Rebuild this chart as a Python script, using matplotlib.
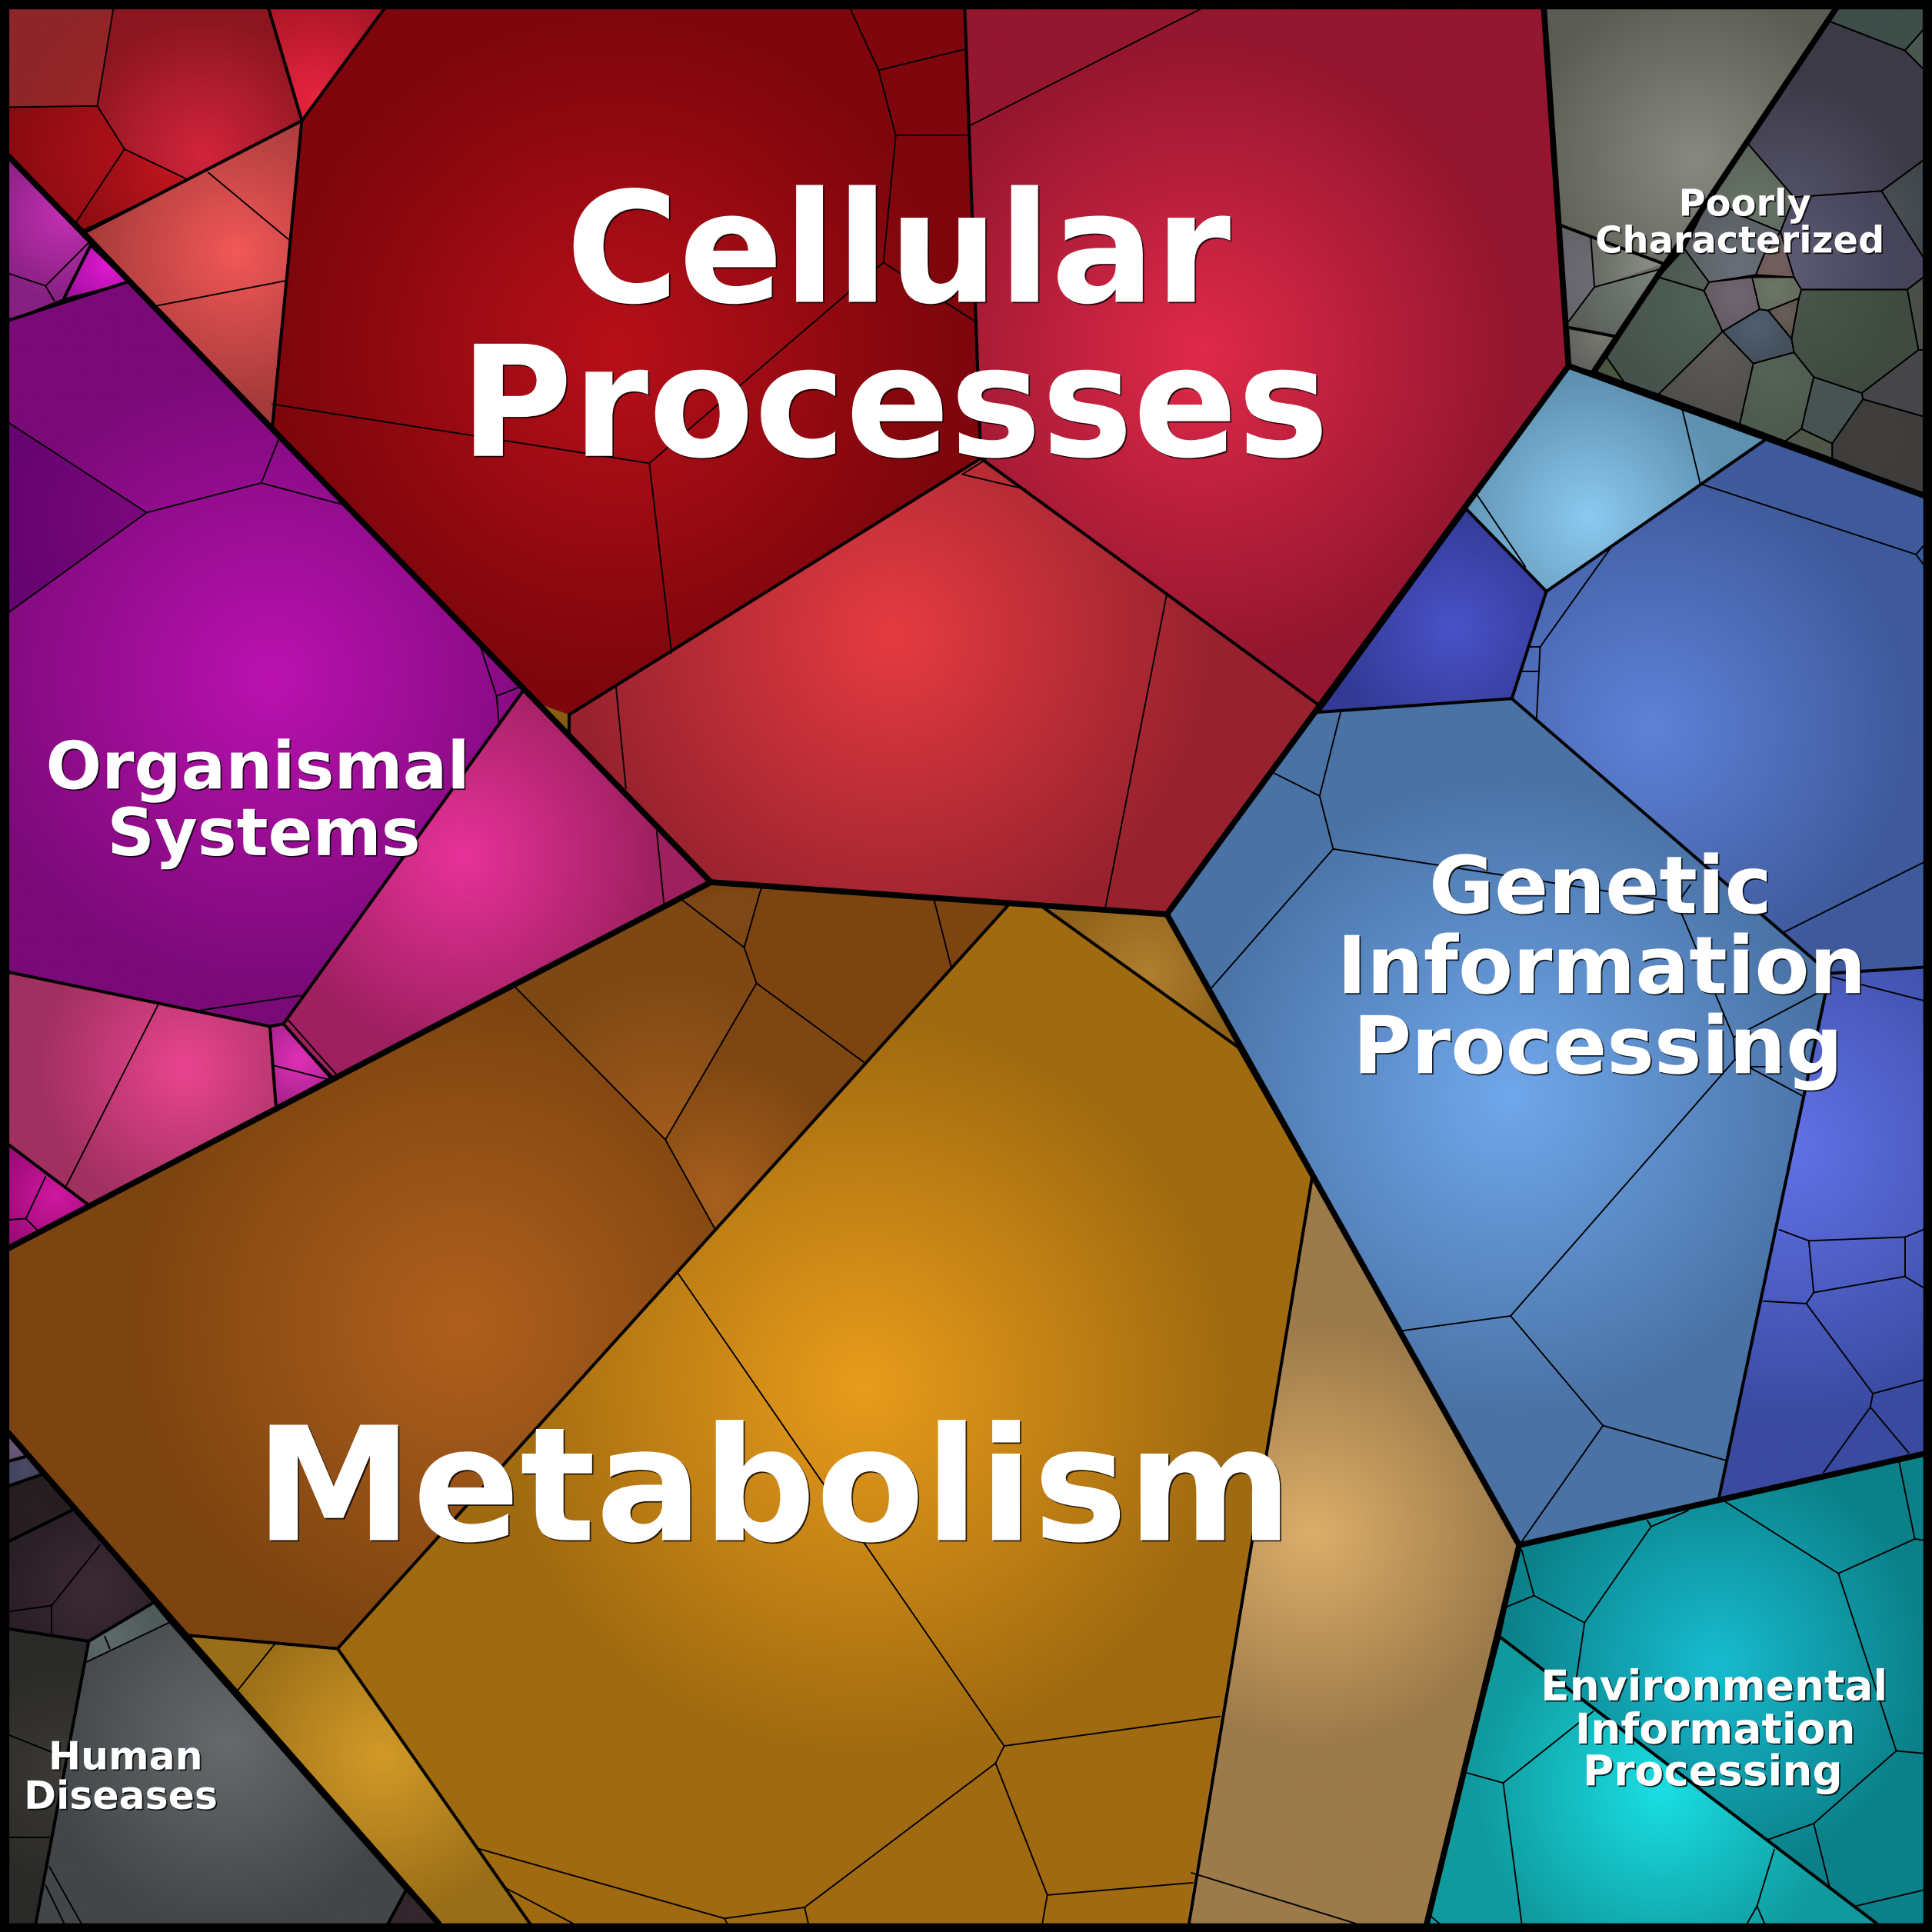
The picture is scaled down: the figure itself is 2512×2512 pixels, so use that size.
import numpy as np
import matplotlib
matplotlib.use("Agg")
import matplotlib.pyplot as plt
from matplotlib.patches import Polygon, Rectangle
from matplotlib.colors import to_rgb
import matplotlib.patheffects as pe

# ---------- cells: outline, centre colour, edge colour, glow centre, glow radius ----------
CELLS = [
 # Cellular Processes
 ([(245,98),(312,7),(783,7),(796,372),(462,580),(440,572),(221,347)], '#b8101a','#7e060c',(500,285),270),
 ([(783,7),(1253,7),(1273,297),(1070,572),(796,372)], '#e02a4a','#94162f',(975,285),255),
 ([(796,372),(1070,572),(947,742),(577,716),(462,597),(462,580)], '#e63b42','#97222e',(725,515),260),
 ([(440,572),(462,580),(462,597)], '#8a5f10','#7e5510',(450,580),30),
 ([(7,7),(92,7),(79,86),(7,87)], '#a5282d','#8f2528',(165,125),150),
 ([(92,7),(218,7),(245,98),(153,146),(101,121),(79,86)], '#d2243c','#8c1620',(165,125),110),
 ([(7,87),(79,86),(101,121),(62,180),(7,127)], '#b5121c','#860b10',(125,125),130),
 ([(101,121),(153,146),(68,186),(62,180)], '#c0161f','#860b10',(140,135),100),
 ([(218,7),(312,7),(245,98)], '#e82440','#a51525',(255,80),90),
 ([(245,98),(221,347),(70,188)], '#f25858','#a53a3a',(192,205),125),
 # Organismal Systems
 ([(7,260),(103,229),(425,560),(230,831),(219,833),(7,789)], '#bb12b0','#7a0a78',(220,550),255),
 ([(7,343),(119,416),(7,497)], '#7a087c','#660470',(110,420),110),
 ([(425,560),(577,716),(272,875),(230,831)], '#e8329a','#9e2060',(375,695),160),
 ([(7,789),(219,833),(224,898),(72,978),(7,929)], '#ea458f','#a03060',(150,867),120),
 ([(219,833),(230,831),(268,874),(224,898)], '#e030b8','#a5228a',(243,860),40),
 ([(7,929),(72,978),(7,1012)], '#d018a0','#90086f',(45,970),60),
 ([(7,127),(68,190),(73,200),(52,242),(7,260)], '#c230b2','#852080',(52,175),70),
 ([(73,200),(103,229),(52,242)], '#e018d0','#a010a0',(87,215),40),
 # Metabolism
 ([(7,1013),(577,716),(818,735),(274,1338),(150,1327),(7,1163)], '#b0601e','#7d4410',(375,1075),270),
 ([(553,730),(604,769),(614,798),(540,925),(417,800)], '#a05a1c','#7e4814',(540,920),130),
 ([(614,798),(701,862),(580,997),(540,925)], '#a8601e','#7d4612',(580,975),120),
 ([(553,730),(618,720),(604,769)], '#80491a','#7a4512',(590,740),60),
 ([(818,735),(846,736),(1005,850),(1065,955),(965,1561),(430,1561),(274,1338)], '#e89c1c','#a06a10',(700,1125),300),
 ([(846,736),(947,742),(1005,850)], '#b07f30','#8d6018',(930,790),80),
 ([(1065,955),(1233,1254),(1158,1561),(963,1561)], '#dcae6a','#9c7a4a',(1065,1245),170),
 ([(150,1327),(274,1338),(430,1561),(356,1561)], '#d29a28','#9a6e18',(310,1425),130),
 # Human Diseases
 ([(7,1163),(124,1301),(72,1332),(7,1322)], '#3d2a36','#241c22',(75,1290),90),
 ([(7,1163),(21,1182),(7,1186)], '#6b5a7a','#5a4a66',(12,1175),20),
 ([(7,1186),(21,1182),(33,1197),(7,1206)], '#4a4a66','#3f3f58',(20,1192),25),
 ([(7,1206),(33,1197),(58,1226),(7,1251)], '#2a2024','#231b1f',(30,1225),40),
 ([(72,1332),(124,1301),(137,1317),(70,1349)], '#5f6a6a','#4f5a5a',(90,1330),40),
 ([(7,1322),(72,1332),(29,1561),(7,1561)], '#3c3935','#2a2a28',(50,1440),90),
 ([(70,1349),(137,1317),(329,1535),(315,1561),(29,1561)], '#666a6e','#424648',(185,1415),150),
 ([(329,1535),(356,1561),(315,1561)], '#35282f','#2e242a',(335,1550),30),
 # Genetic Information Processing
 ([(1273,297),(1434,356),(1255,480),(1190,413)], '#8ccaf0','#5e90b0',(1290,420),115),
 ([(1190,413),(1255,480),(1227,567),(1070,578)], '#4a52c8','#333a95',(1180,510),100),
 ([(1434,356),(1561,402),(1561,785),(1485,790),(1227,567),(1255,480)], '#5f82d8','#3f5a9c',(1340,590),210),
 ([(1070,578),(1227,567),(1485,790),(1395,1216),(1233,1254),(947,742)], '#70a8ec','#4a72a5',(1225,890),260),
 ([(1485,790),(1561,785),(1561,1180),(1395,1216)], '#6272e8','#3a4aa0',(1450,930),225),
 # Environmental Information Processing
 ([(1233,1254),(1561,1180),(1561,1561),(1523,1561),(1218,1329)], '#18bcd0','#0b8088',(1392,1350),175),
 ([(1218,1329),(1523,1561),(1158,1561)], '#1adfe4','#109a9e',(1348,1453),150),
 # Poorly Characterized, left panel
 ([(1253,7),(1490,7),(1294,301),(1273,297)], '#888a82','#5a5c52',(1375,130),145),
 ([(1267,183),(1291,192),(1294,233),(1273,261)], '#6e6e74','#606066',(1300,225),60),
 ([(1291,192),(1350,214),(1294,233)], '#8a8d85','#5f635c',(1340,218),60),
 ([(1294,233),(1349,218),(1311,273),(1273,261)], '#78807a','#555a56',(1340,225),80),
 ([(1274,266),(1311,273),(1294,301),(1276,297)], '#7a7a72','#5a5a58',(1300,272),40),
]

# Poorly Characterized, right panel: every cell keeps a thin outline
OUTLINED_CELLS = [
 ([(1490,7),(1561,7),(1561,24),(1546,41),(1484,17)], '#3e4d49','#3e4d49',(1520,20),40),
 ([(1546,41),(1561,24),(1561,56)], '#4a5650','#4a5650',(1555,40),20),
 ([(1418,116),(1484,17),(1546,41),(1561,56),(1561,130),(1527,155),(1456,160)], '#54546a','#3d3a47',(1450,170),110),
 ([(1527,155),(1561,130),(1561,209)], '#4a5054','#40454a',(1530,175),50),
 ([(1456,160),(1527,155),(1561,209),(1561,225),(1548,235),(1462,235),(1456,225),(1445,188)], '#5e5c74','#46445a',(1450,215),90),
 ([(1548,235),(1561,225),(1561,284),(1557,284)], '#4a4f48','#4a4f48',(1555,255),30),
 ([(1462,235),(1548,235),(1557,284),(1511,319),(1472,306),(1456,286),(1454,275),(1460,242)], '#4a564c','#3f4a40',(1460,240),80),
 ([(1557,284),(1561,284),(1561,338),(1512,324),(1511,319)], '#46464a','#46464a',(1540,310),30),
 ([(1512,324),(1561,338),(1561,402),(1487,372),(1487,360)], '#413f3e','#3f3d3c',(1520,355),50),
 ([(1472,306),(1511,319),(1512,324),(1487,360),(1462,348)], '#475253','#475253',(1485,330),30),
 ([(1449,358),(1462,348),(1487,360),(1487,372)], '#4e5649','#4e5649',(1470,360),20),
 ([(1423,295),(1456,286),(1472,306),(1462,348),(1449,358),(1412,344)], '#546358','#4f5a4e',(1440,300),50),
 ([(1398,269),(1423,295),(1412,344),(1346,320)], '#5c5b56','#4e4d4a',(1395,280),70),
 ([(1346,225),(1383,236),(1398,269),(1346,320),(1318,310),(1304,290)], '#506258','#46534c',(1385,245),80),
 ([(1304,290),(1318,310),(1294,301)], '#4a5540','#4a5540',(1305,300),20),
 ([(1367,202),(1387,229),(1383,236),(1346,225)], '#55605a','#4e5852',(1380,225),30),
 ([(1418,116),(1456,160),(1445,188),(1416,176),(1388,160)], '#6a756a','#5a6558',(1420,170),50),
 ([(1388,160),(1416,176),(1445,188),(1432,206),(1425,223),(1387,229),(1367,202)], '#6a7078','#565a60',(1410,215),60),
 ([(1445,188),(1456,225),(1425,223),(1432,206)], '#74605e','#6a5856',(1440,215),25),
 ([(1387,229),(1422,225),(1428,251),(1398,269),(1383,236)], '#716670','#645a64',(1410,240),30),
 ([(1422,225),(1456,225),(1462,235),(1460,242),(1435,252),(1428,251)], '#6e7668','#626a5c',(1440,235),25),
 ([(1435,252),(1460,242),(1454,275)], '#6a5f58','#5e544e',(1448,255),15),
 ([(1398,269),(1428,251),(1435,252),(1454,275),(1456,286),(1423,295)], '#4f5f70','#454f5c',(1425,265),30),
]

# ---------- border weights ----------
THICK_LINES = [
 [(7,127),(577,716)], [(7,1013),(577,716),(947,742)], [(947,742),(1273,297),(1253,7)],
 [(947,742),(1233,1254),(1158,1561)], [(1233,1254),(1561,1180)], [(7,1163),(356,1561)],
 [(1490,7),(1294,301)], [(1273,297),(1561,402)],
]
MEDIUM_LINES = [
 [(218,7),(245,98),(312,7)], [(70,188),(245,98),(221,347)], [(7,260),(103,229)], [(52,242),(73,200)],
 [(462,580),(796,372),(783,7)], [(796,372),(1070,572)], [(462,580),(462,597)],
 [(425,560),(230,831),(219,833),(7,789)], [(219,833),(224,898)], [(230,831),(268,874)], [(7,929),(72,978)],
 [(818,735),(274,1338),(150,1327)], [(846,736),(1005,850),(1065,955),(965,1561)], [(274,1338),(430,1561)],
 [(124,1301),(72,1332),(7,1322)], [(72,1332),(29,1561)], [(329,1535),(315,1561)],
 [(7,1186),(21,1182)], [(7,1206),(33,1197)], [(7,1251),(58,1226)],
 [(1434,356),(1255,480),(1190,413),(1070,578)], [(1255,480),(1227,567),(1070,578)], [(1227,567),(1485,790),(1395,1216)],
 [(1485,790),(1561,785)], [(1218,1329),(1523,1561)], [(1274,266),(1311,273)], [(1267,183),(1350,214)],
]
THIN_LINES = [
 [(221,328),(527,376),(545,530)], [(527,376),(717,213),(793,262)], [(717,213),(727,110),(713,57),(690,7)],
 [(713,57),(783,40)], [(727,110),(787,110)], [(975,7),(787,102)], [(947,482),(897,737)], [(500,558),(508,640)],
 [(781,385),(832,397)], [(781,385),(800,373)],
 [(92,7),(79,86),(7,87)], [(79,86),(101,121),(62,180)], [(101,121),(153,146)], [(169,140),(235,195)], [(128,248),(231,228)],
 [(7,222),(37,232),(72,197)], [(37,232),(44,244)],
 [(7,343),(119,416),(7,497)], [(119,416),(212,392),(226,357)], [(212,392),(280,410)],
 [(390,525),(403,565),(423,557)], [(403,565),(405,588)], [(162,820),(244,808)],
 [(533,675),(539,735)], [(128,816),(54,962)], [(223,865),(266,876)], [(234,828),(273,872)],
 [(37,955),(21,989),(7,990)], [(21,989),(31,999)],
 [(417,800),(540,925),(580,997)], [(540,925),(614,798),(604,769),(553,730)], [(604,769),(618,720)],
 [(614,798),(701,862)], [(758,730),(772,785)],
 [(550,1033),(815,1417),(808,1431),(850,1538),(968,1528)], [(815,1417),(990,1393)],
 [(808,1431),(653,1548),(588,1557),(387,1500)], [(653,1548),(656,1561)], [(588,1557),(590,1561)], [(850,1538),(846,1561)],
 [(408,1531),(465,1561)], [(411,1533),(430,1561)], [(967,1520),(1100,1561)], [(224,1333),(192,1373)],
 [(81,1254),(42,1303),(7,1308)], [(42,1303),(42,1326)], [(7,1408),(42,1422)], [(7,1491),(40,1491)],
 [(40,1515),(66,1561)], [(37,1530),(52,1561)], [(85,1328),(89,1338)], [(70,1349),(137,1317)],
 [(1365,331),(1380,393)], [(1199,402),(1238,460)], [(1381,393),(1555,450),(1561,443)], [(1555,450),(1561,458)],
 [(1307,445),(1250,525),(1247,585)], [(1240,525),(1250,525)], [(1235,545),(1248,545)], [(1447,757),(1561,700)],
 [(1088,578),(1071,646),(1082,689),(983,802)], [(1033,627),(1071,646)], [(1082,689),(1354,731),(1365,742),(1407,842),(1408,860),(1226,1068),(1138,1080)],
 [(1365,728),(1372,718)], [(1226,1068),(1301,1157),(1400,1185)], [(1301,1157),(1233,1254)],
 [(1407,842),(1475,806)], [(1408,860),(1464,890)], [(1421,866),(1446,866)],
 [(1487,793),(1561,812)], [(1444,998),(1468,1007),(1546,1004),(1561,998)], [(1468,1007),(1472,1049),(1546,1036),(1561,1045)],
 [(1546,1004),(1546,1036)], [(1472,1049),(1466,1058),(1431,1056)], [(1466,1058),(1520,1131),(1561,1120)],
 [(1520,1131),(1518,1142),(1480,1195)], [(1518,1142),(1549,1179)],
 [(1337,1234),(1340,1239),(1370,1226)], [(1340,1239),(1286,1317),(1245,1295),(1235,1258)], [(1245,1295),(1223,1304)],
 [(1286,1317),(1278,1372)], [(1399,1218),(1492,1277),(1554,1249),(1541,1185)], [(1554,1249),(1561,1250)],
 [(1492,1277),(1539,1421),(1561,1423)], [(1539,1421),(1472,1480),(1435,1493)], [(1472,1480),(1485,1532)],
 [(1506,1547),(1561,1534)], [(1293,1389),(1220,1447),(1191,1439)], [(1220,1447),(1235,1561)],
 [(1440,1501),(1426,1547),(1418,1561)], [(1426,1547),(1432,1561)], [(1161,1555),(1168,1561)],
 [(1291,192),(1294,233),(1349,218)], [(1294,233),(1273,261)],
]

# ---------- labels: text, centre x, baseline y, font size in map units ----------
LABELS = [
 ('Cellular', 729, 245, 124.9), ('Processes', 726, 370, 124.9), ('Metabolism', 628, 1250, 128.5),
 ('Genetic', 1299, 741, 64.7), ('Information', 1300, 806, 64.7), ('Processing', 1297, 871, 64.7),
 ('Organismal', 209, 640, 53.4), ('Systems', 214, 694, 53.4),
 ('Environmental', 1391, 1380, 34.3), ('Information', 1392, 1415, 34.3), ('Processing', 1390, 1449, 34.3),
 ('Poorly', 1416, 175, 29.9), ('Characterized', 1412, 205, 29.9),
 ('Human', 102, 1436, 31.5), ('Diseases', 98, 1468, 31.5),
]

SIZE = 1568
DPI = 250
fig = plt.figure(figsize=(2512 / DPI, 2512 / DPI), dpi=DPI, facecolor='black')
ax = fig.add_axes([0, 0, 1, 1])
ax.set_axis_off()
U = 2512 / SIZE * 72 / DPI   # points per map unit


def glow(pts, c0, c1, centre, radius):
    arr = np.array(pts, float)
    x0, y0 = arr.min(0) - 2
    x1, y1 = arr.max(0) + 2
    nx = max(int((x1 - x0) * 1.7), 4)
    ny = max(int((y1 - y0) * 1.7), 4)
    xs, ys = np.meshgrid(np.linspace(x0, x1, nx), np.linspace(y0, y1, ny))
    t = np.clip(np.hypot(xs - centre[0], ys - centre[1]) / radius, 0, 1)[..., None]
    img = np.array(to_rgb(c0)) * (1 - t) + np.array(to_rgb(c1)) * t
    patch = Polygon(arr, closed=True, transform=ax.transData, fc='none', ec='none')
    ax.add_patch(patch)
    im = ax.imshow(img, extent=(x0, x1, y1, y0), origin='upper', aspect='auto',
                   interpolation='bilinear', zorder=1)
    im.set_clip_path(patch)


for pts, c0, c1, centre, radius in CELLS + OUTLINED_CELLS:
    glow(pts, c0, c1, centre, radius)


def stroke(lines, width, z):
    for ln in lines:
        xy = np.array(ln, float)
        ax.plot(xy[:, 0], xy[:, 1], color='black', lw=width, solid_capstyle='round',
                solid_joinstyle='round', zorder=z)


stroke(THIN_LINES, 0.55, 2)
stroke([list(c[0]) + [c[0][0]] for c in OUTLINED_CELLS], 0.5, 2)
stroke(MEDIUM_LINES, 1.15, 3)
stroke(THICK_LINES, 2.2, 4)
ax.add_patch(Rectangle((3.5, 3.5), SIZE - 7, SIZE - 7, fc='none', ec='black', lw=7 * U, zorder=5))

for text, x, y, em in LABELS:
    ax.text(x, y, text, color='white', ha='center', va='baseline', family='DejaVu Sans',
            weight='bold', fontsize=em * U, zorder=6,
            path_effects=[pe.withSimplePatchShadow(offset=(0.5, -0.5), shadow_rgbFace='black', alpha=0.8)])

ax.set_xlim(0, SIZE)
ax.set_ylim(SIZE, 0)
fig.savefig('out.png', dpi=DPI, facecolor='black')
